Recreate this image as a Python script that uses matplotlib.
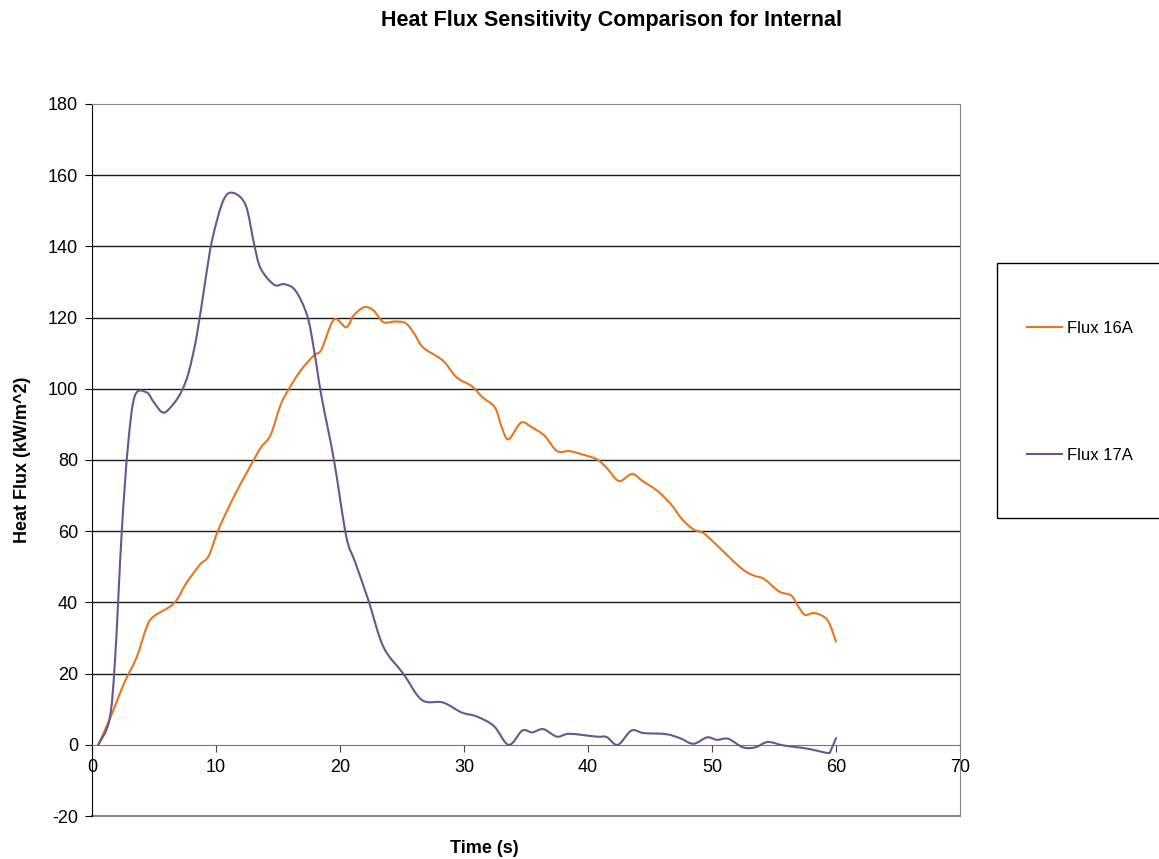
import numpy as np
import matplotlib
matplotlib.use("Agg")
import matplotlib.pyplot as plt
from matplotlib.path import Path
from matplotlib.patches import PathPatch, Rectangle
from matplotlib.lines import Line2D

plt.rcParams['font.family'] = ['Liberation Sans', 'DejaVu Sans']
plt.rcParams['axes.unicode_minus'] = False

# Flux 16A (orange)
t16 = [0.5, 1.4, 2.6, 3.6, 4.4, 4.95, 6.6, 7.6, 8.7, 9.4, 10.2, 11.4, 12.5, 13.6, 14.4,
       15.2, 15.8, 16.8, 17.9, 18.5, 19.5, 20.5, 21.1, 21.95, 22.7, 23.5, 24.4, 25.3, 26.0,
       26.7, 28.3, 29.4, 30.6, 31.5, 32.5, 33.05, 33.6, 34.6, 35.5, 36.5, 37.5, 38.5, 39.5,
       40.7, 41.5, 42.5, 43.55, 44.4, 45.6, 46.7, 47.6, 48.5, 49.3, 50.2, 51.3, 52.5, 53.4,
       54.2, 55.4, 56.4, 56.95, 57.5, 58.25, 59.3, 60.0]
f16 = [0, 7, 17.4, 24.6, 33, 36, 39.7, 45.4, 50.6, 53, 60.5, 69.4, 76.6, 83.4, 87,
       95.4, 99.5, 105, 109.4, 111, 119.4, 117.3, 120.6, 122.9, 122, 118.7, 118.9, 118.4, 115.4,
       111.6, 107.9, 103.2, 100.8, 97.6, 94.7, 89.1, 85.8, 90.5, 89.1, 86.8, 82.5, 82.5, 81.6,
       80.2, 77.8, 74.1, 76.1, 74.1, 71.3, 67.5, 63.3, 60.5, 59.5, 56.7, 53, 49.2, 47.5,
       46.6, 43.1, 41.9, 38.9, 36.5, 37, 35.1, 29]

# Flux 17A (purple)
t17 = [0.5, 1.4, 1.85, 2.4, 2.9, 3.45, 4.4, 4.95, 5.75, 6.6, 7.25, 7.8, 8.45, 9.15, 9.7,
       10.6, 11.4, 12.4, 13.05, 13.6, 14.7, 15.5, 16.4, 17.35, 17.9, 18.5, 19.5, 20.5, 21.2,
       22.3, 23.5, 25.1, 26.6, 28.3, 29.8, 31.0, 32.4, 33.6, 34.7, 35.5, 36.4, 37.5, 38.5,
       40.7, 41.5, 42.4, 43.5, 44.5, 46.3, 47.4, 48.5, 49.6, 50.4, 51.3, 52.5, 53.5, 54.5,
       55.8, 57.4, 58.4, 59.4, 59.6, 60.0]
f17 = [0, 7, 23.6, 60, 84, 98, 99, 96.4, 93.3, 95.9, 99.5, 104.7, 115, 130.7, 142,
       153, 155, 151.5, 141, 133.8, 129.2, 129.4, 127.6, 120.6, 111, 98, 80.2, 58.6, 51.5,
       40.5, 27.5, 20, 12.6, 11.9, 9.1, 8, 5.3, 0, 4, 3.5, 4.4, 2.3, 3.1,
       2.3, 2.2, 0, 4, 3.3, 3, 1.9, 0.3, 2.1, 1.4, 1.7, -0.7, -0.7, 0.8,
       -0.2, -0.9, -1.6, -2.3, -1.4, 1.9]

labels = ['Flux 16A', 'Flux 17A']
colors = ['#E8761E', '#6A5590']


def smooth_path(x, y):
    # Excel-style smoothed line: Catmull-Rom through the points as cubic Beziers
    pts = np.column_stack([x, y]).astype(float)
    n = len(pts)
    verts = [pts[0]]
    codes = [Path.MOVETO]
    for i in range(n - 1):
        p0 = pts[i - 1] if i > 0 else pts[i]
        p1 = pts[i]
        p2 = pts[i + 1]
        p3 = pts[i + 2] if i + 2 < n else pts[i + 1]
        verts += [p1 + (p2 - p0) / 6, p2 - (p3 - p1) / 6, p2]
        codes += [Path.CURVE4] * 3
    return Path(verts, codes)


fig = plt.figure(figsize=(11.59, 8.59), dpi=100)
ax = fig.add_axes([0.0794, 0.05, 0.7489, 0.829])

for x, y, c in zip([t16, t17], [f16, f17], colors):
    ax.add_patch(PathPatch(smooth_path(x, y), fill=False, edgecolor=c, lw=1.5,
                           zorder=3, capstyle='round', joinstyle='round'))

ax.set_xlim(0, 70)
ax.set_ylim(-20, 180)
ax.set_yticks(np.arange(-20, 181, 20))
ax.set_xticks(np.arange(0, 71, 10))

for yv in range(20, 180, 20):
    ax.axhline(yv, color='#1a1a1a', lw=1.0, zorder=1)

ax.spines['top'].set_color('#888888')
ax.spines['right'].set_color('#888888')
ax.spines['left'].set_color('black')
ax.spines['bottom'].set_position(('data', 0))
ax.spines['bottom'].set_color('#777777')
ax.axhline(-20, color='#888888', lw=1.5, zorder=1, clip_on=False)

ax.tick_params(axis='y', direction='out', length=5, labelsize=13, pad=5)
ax.tick_params(axis='x', direction='out', length=5, labelsize=13, pad=5, color='#444444')

ax.set_xlabel('Time (s)', fontsize=13, fontweight='bold')
ax.xaxis.set_label_coords(0.452, -0.034)
ax.set_ylabel('Heat Flux (kW/m^2)', fontsize=13, fontweight='bold', labelpad=12)

fig.text(0.528, 0.988, 'Heat Flux Sensitivity Comparison for Internal',
         ha='center', va='top', fontsize=15.5, fontweight='bold')

# legend box on the right, partly cut by the figure edge
fig.patches.append(Rectangle((0.8602, 0.397), 0.16, 0.2969, transform=fig.transFigure,
                             fill=False, edgecolor='black', lw=1.0, clip_on=False))
handles = [Line2D([], [], color=c, lw=1.5) for c in colors]
fig.legend(handles, labels, loc='upper left', bbox_to_anchor=(0.8861, 0.6266),
           fontsize=12, frameon=False, labelspacing=6.75, handlelength=2.1,
           handletextpad=0.3, borderpad=0, borderaxespad=0)

fig.savefig('out.png', dpi=100)
